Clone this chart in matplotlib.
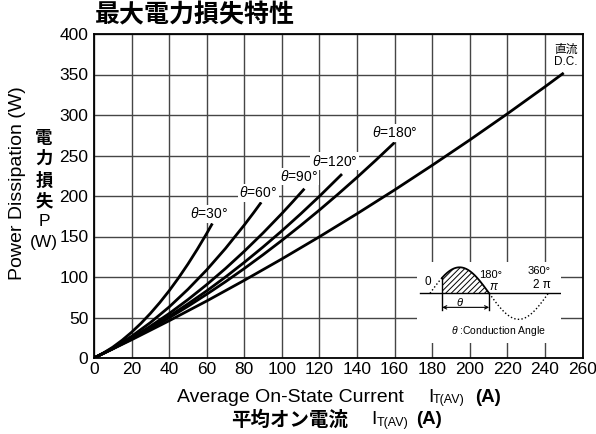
import numpy as np
import matplotlib
matplotlib.use('Agg')
import matplotlib.pyplot as plt

plt.rcParams['font.family'] = ['Liberation Sans', 'Noto Sans CJK JP', 'DejaVu Sans']
plt.rcParams['mathtext.fontset'] = 'custom'
plt.rcParams['mathtext.rm'] = 'Liberation Sans'
plt.rcParams['mathtext.it'] = 'Liberation Sans:italic'
plt.rcParams['mathtext.bf'] = 'Liberation Sans:bold'
plt.rcParams['hatch.linewidth'] = 0.7

# ---------------- data ----------------
current_dc = [0, 20, 40, 60, 80, 100, 120, 140, 160, 180, 200, 220, 240, 250]
power_dc = [0, 22.5, 46.0, 70.4, 95.9, 122.3, 149.7, 178.1, 207.5, 237.9, 269.2, 301.5, 334.8, 351.9]

current_180 = [0, 10, 20, 30, 40, 50, 60, 70, 80, 90, 100, 110, 120, 130, 140, 150, 160]
power_180 = [0, 11.4, 23.4, 36.2, 49.6, 63.8, 78.7, 94.2, 110.5, 127.5, 145.2, 163.6, 182.7, 202.5, 223.0, 244.2, 266.1]

current_120 = [0, 10, 20, 30, 40, 50, 60, 70, 80, 90, 100, 110, 120, 132]
power_120 = [0, 11.5, 23.9, 37.2, 51.5, 66.8, 82.9, 100.0, 118.1, 137.1, 157.0, 177.9, 199.7, 227.1]

current_90 = [0, 10, 20, 30, 40, 50, 60, 70, 80, 90, 100, 106, 112]
power_90 = [0, 11.7, 24.7, 39.2, 54.9, 72.1, 90.6, 110.5, 131.8, 154.4, 178.4, 193.5, 209.0]

current_60 = [0, 10, 20, 30, 40, 50, 60, 70, 80, 85, 89]
power_60 = [0, 12.2, 26.8, 43.7, 63.0, 84.8, 108.8, 135.3, 164.2, 179.5, 192.2]

current_30 = [0, 5, 10, 15, 20, 25, 30, 35, 40, 45, 50, 55, 60, 63]
power_30 = [0, 6.1, 13.4, 22.0, 31.8, 42.8, 55.0, 68.4, 83.0, 98.9, 116.0, 134.3, 153.8, 166.1]

curve_labels = [r'$\theta$=30°', r'$\theta$=60°', r'$\theta$=90°', r'$\theta$=120°', r'$\theta$=180°']
x_ticks = list(range(0, 261, 20))
y_ticks = list(range(0, 401, 50))
conduction_start_deg = 37

W, H = 596, 434
fig = plt.figure(figsize=(W / 100, H / 100), dpi=100)

def fx(px):
    return px / W

def fy(py):
    return 1 - py / H

ax = fig.add_axes([fx(94), fy(358), (582.5 - 94) / W, (358 - 34) / H])
ax.set_xlim(0, 260)
ax.set_ylim(0, 400)
ax.set_xticks(x_ticks)
ax.set_yticks(y_ticks)
ax.grid(True, color='#454545', lw=1.0, zorder=0)
ax.set_axisbelow(True)
ax.tick_params(length=0, labelsize=12.5)
ax.tick_params(axis='x', pad=3)
ax.tick_params(axis='y', pad=4)
for s in ax.spines.values():
    s.set_linewidth(1.3)
    s.set_color('black')

series = [(current_30, power_30), (current_60, power_60), (current_90, power_90),
          (current_120, power_120), (current_180, power_180), (current_dc, power_dc)]
for xs, ys in series:
    ax.plot(xs, ys, color='black', lw=2.0, solid_capstyle='butt', zorder=3)

label_pos = [(61, 178), (87.5, 204), (109, 224), (128, 243), (160, 278)]
for txt, (lx, ly) in zip(curve_labels, label_pos):
    ax.text(lx, ly, txt, ha='center', va='center', fontsize=10,
            bbox=dict(fc='white', ec='none', pad=1.0), zorder=4)

ax.text(251, 381, '直流', ha='center', va='center', fontsize=8.5, zorder=4)
ax.text(251, 365, 'D.C.', ha='center', va='center', fontsize=8.5, zorder=4)

# ---------------- inset: conduction angle diagram ----------------
iax = fig.add_axes([fx(417), fy(343), 144 / W, 81 / H])
iax.set_xlim(-39.6, 398.6)
iax.set_ylim(-1.91, 1.204)
iax.set_xticks([])
iax.set_yticks([])
for s in iax.spines.values():
    s.set_visible(False)
iax.set_facecolor('white')
iax.set_zorder(5)

deg = np.linspace(0, 360, 721)
wave = np.sin(np.radians(deg))
st = conduction_start_deg
pre = deg <= st
on = (deg >= st) & (deg <= 180)
post = deg >= 180
dot = (0, (1, 1.6))
iax.plot(deg[pre], wave[pre], color='black', lw=1.0, ls=dot)
iax.plot(deg[post], wave[post], color='black', lw=1.0, ls=dot)
iax.fill_between(deg[on], 0, wave[on], facecolor='white', edgecolor='black',
                 hatch='//////', lw=0)
iax.plot(deg[on], wave[on], color='black', lw=1.3)
iax.plot([-30.4, 395.6], [0, 0], color='black', lw=1.0)
iax.plot([st, st], [np.sin(np.radians(st)), -0.64], color='black', lw=1.0)
iax.plot([180, 180], [0, -0.64], color='black', lw=1.0)
iax.annotate('', xy=(st, -0.54), xytext=(180, -0.54),
             arrowprops=dict(arrowstyle='<->', lw=0.8, shrinkA=0, shrinkB=0,
                             mutation_scale=6, color='black'))
iax.text(91, -0.33, r'$\theta$', ha='center', va='center', fontsize=8)
iax.text(-7, 0.45, '0', ha='center', va='center', fontsize=8.5)
iax.text(183, 0.72, '180°', ha='center', va='center', fontsize=8)
iax.text(192, 0.25, 'π', ha='center', va='center', fontsize=8.5, style='italic')
iax.text(333, 0.85, '360°', ha='center', va='center', fontsize=8)
iax.text(340, 0.32, '2 π', ha='center', va='center', fontsize=8.5)
iax.text(208, -1.43, r'$\theta$ :Conduction Angle', ha='center', va='center', fontsize=7.5)

# ---------------- titles and axis labels ----------------
fig.text(fx(95), fy(15), '最大電力損失特性', fontsize=18, fontweight='bold',
         ha='left', va='center')

fig.text(fx(18), fy(183), 'Power Dissipation (W)', rotation=90, fontsize=14,
         ha='center', va='center')
for ch, py, fs, fw in zip(['電', '力', '損', '失', 'P', '(W)'],
                          [138, 159, 180, 201, 222, 242],
                          [12.5, 12.5, 12.5, 12.5, 12.5, 12.5],
                          ['bold', 'bold', 'bold', 'bold', 'normal', 'normal']):
    fig.text(fx(44), fy(py), ch, fontsize=fs, fontweight=fw, ha='center', va='center')

# x label line 1
fig.text(fx(290), fy(397), 'Average On-State Current', fontsize=14, ha='center', va='center')
fig.text(fx(428), fy(397), 'I', fontsize=14, ha='left', va='center')
fig.text(fx(433), fy(400), 'T(AV)', fontsize=9, ha='left', va='center')
fig.text(fx(475), fy(397), '(A)', fontsize=13.5, fontweight='bold', ha='left', va='center')
# x label line 2
fig.text(fx(289.5), fy(420), '平均オン電流', fontsize=14, fontweight='bold', ha='center', va='center')
fig.text(fx(371.5), fy(420), 'I', fontsize=14, ha='left', va='center')
fig.text(fx(376.5), fy(423), 'T(AV)', fontsize=9, ha='left', va='center')
fig.text(fx(416.5), fy(420), '(A)', fontsize=13.5, fontweight='bold', ha='left', va='center')

fig.savefig('out.png', dpi=100)
